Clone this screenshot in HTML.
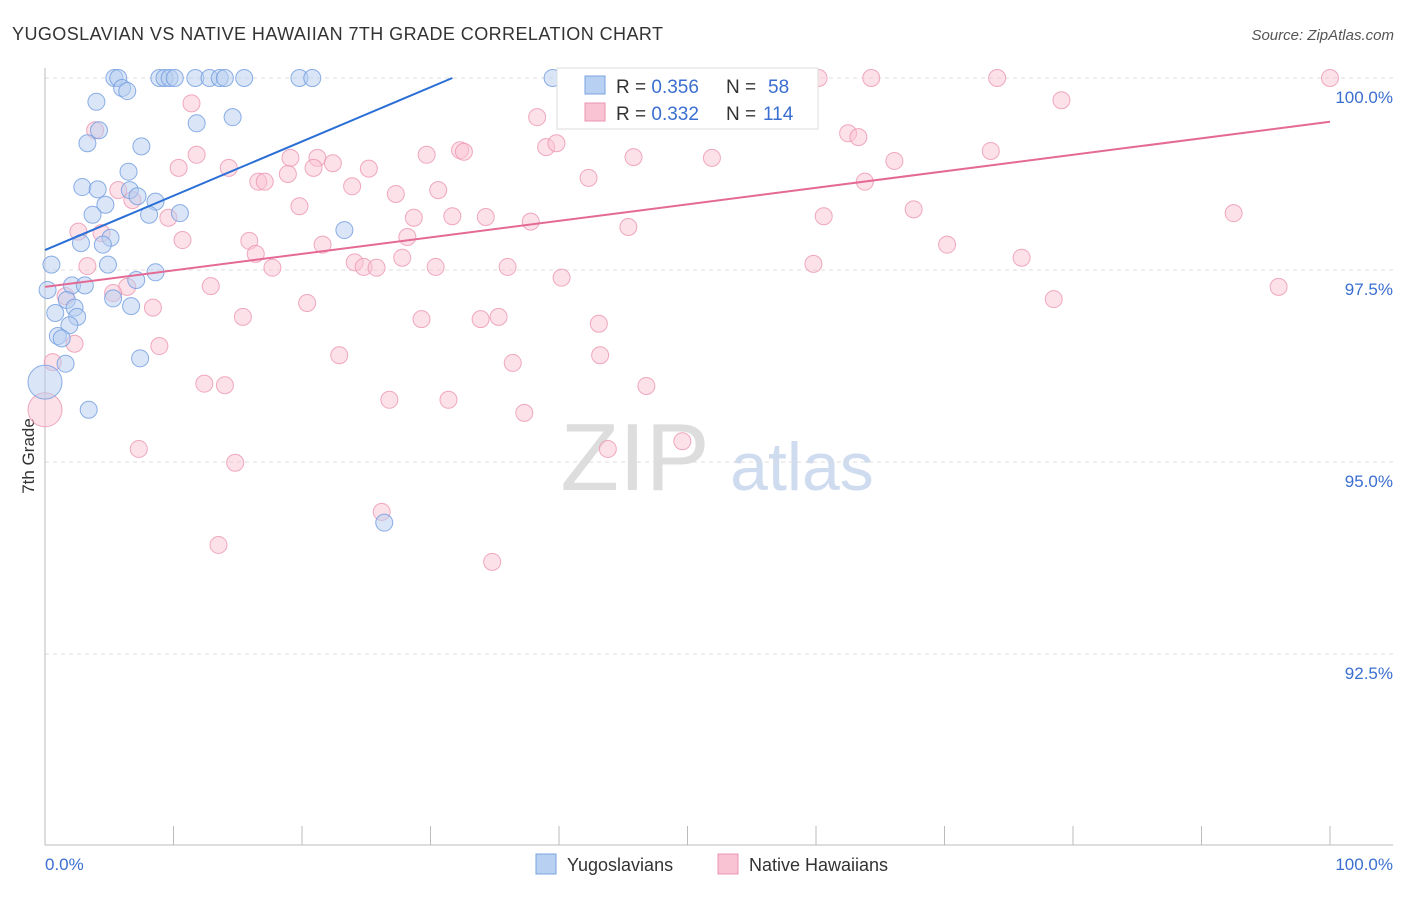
<!DOCTYPE html>
<html><head><meta charset="utf-8">
<style>
body{margin:0;background:#fff;width:1406px;height:892px;overflow:hidden;font-family:"Liberation Sans",sans-serif;}
svg text{font-family:"Liberation Sans",sans-serif;}
</style></head>
<body>
<svg id="chart" width="1406" height="892" xmlns="http://www.w3.org/2000/svg">
<text x="12" y="40" font-size="18" fill="#333" textLength="651" lengthAdjust="spacing">YUGOSLAVIAN VS NATIVE HAWAIIAN 7TH GRADE CORRELATION CHART</text>
<text x="1394" y="40" font-size="15" fill="#555" font-style="italic" text-anchor="end">Source: ZipAtlas.com</text>
<text transform="translate(34,456) rotate(-90)" font-size="17" fill="#333" text-anchor="middle">7th Grade</text>
<g>
<text x="635" y="490" font-size="96" fill="#ddd" font-family="Liberation Serif" text-anchor="middle">ZIP</text>
<text x="802" y="490" font-size="68" fill="#cfdcf0" text-anchor="middle">atlas</text>
</g>
<g id="grid"></g>
<g id="marks"></g>
<g>
<rect x="557" y="68" width="261" height="61" fill="#fff" stroke="#ddd"/>
<rect x="585" y="76" width="20" height="18" fill="#b8d0f2" stroke="#7aa3e0"/>
<rect x="585" y="103" width="20" height="18" fill="#f9c3d3" stroke="#ec95b0"/>
<text x="616" y="93" font-size="19" fill="#333">R = <tspan fill="#3a6fd0">0.356</tspan></text>
<text x="726" y="93" font-size="19" fill="#333">N =</text>
<text x="768" y="93" font-size="19" fill="#3a6fd0">58</text>
<text x="616" y="120" font-size="19" fill="#333">R = <tspan fill="#3a6fd0">0.332</tspan></text>
<text x="726" y="120" font-size="19" fill="#333">N =</text>
<text x="763" y="120" font-size="19" fill="#3a6fd0">114</text>
</g>
<g>
<rect x="536" y="854" width="20" height="20" fill="#b8d0f2" stroke="#7aa3e0"/>
<text x="567" y="871" font-size="18" fill="#333">Yugoslavians</text>
<rect x="718" y="854" width="20" height="20" fill="#f9c3d3" stroke="#ec95b0"/>
<text x="749" y="871" font-size="18" fill="#333">Native Hawaiians</text>
</g>
</svg>
<script>
const yTicks=[100,97.5,95,92.5];
const yTickLabels=["100.0%","97.5%","95.0%","92.5%"];
const xTickLabels=["0.0%","100.0%"];
const blueX=[5.4,5.7,8.9,9.3,9.7,10.1,11.7,12.8,13.6,14.0,15.5,19.8,20.8,39.5,6.0,6.4,4.0,11.8,14.6,4.2,3.3,7.5,6.5,2.9,4.1,6.6,7.2,8.6,4.7,3.7,8.1,10.5,23.3,5.1,2.8,4.5,0.5,4.9,8.6,7.1,2.1,3.1,0.2,5.3,1.7,2.3,6.7,0.8,2.5,1.9,1.0,1.3,7.4,1.6,0,3.4,26.4];
const blueY=[100,100,100,100,100,100,100,100,100,100,100,100,100,100,99.87,99.83,99.69,99.41,99.49,99.32,99.15,99.11,98.78,98.58,98.55,98.54,98.46,98.39,98.35,98.22,98.22,98.24,98.02,97.92,97.85,97.83,97.57,97.57,97.47,97.37,97.30,97.30,97.24,97.13,97.11,97.01,97.03,96.94,96.89,96.78,96.64,96.61,96.35,96.28,96.04,95.68,94.21];
const pinkX=[41.1,41.6,45.3,47.6,49.4,52.5,59.4,60.2,64.3,74.1,100,79.1,11.4,38.3,3.9,62.5,63.3,32.3,32.6,39.0,39.8,73.6,11.8,29.7,45.8,51.9,19.1,21.2,66.1,10.4,14.3,20.9,22.4,25.2,42.3,16.6,17.1,18.9,23.9,5.7,30.6,27.3,6.8,63.8,19.8,67.6,92.5,60.6,34.3,31.7,28.7,37.8,9.6,45.4,2.6,4.4,28.2,15.9,10.7,21.6,70.2,16.4,27.8,76.0,3.3,24.1,24.8,25.8,36.0,30.4,17.7,59.8,40.2,12.9,6.4,96.0,5.3,1.6,78.5,20.4,8.4,15.4,29.3,33.9,35.3,43.1,2.3,8.9,22.9,43.2,36.4,0.6,12.4,14.0,46.8,26.8,31.4,37.3,0,49.6,7.3,43.8,14.8,26.2,13.5,34.8];
const pinkY=[100,100,100,100,100,100,100,100,100,100,100,99.71,99.67,99.49,99.32,99.28,99.23,99.06,99.04,99.10,99.15,99.05,99.00,99.00,98.97,98.96,98.96,98.96,98.92,98.83,98.83,98.83,98.89,98.82,98.70,98.65,98.65,98.75,98.59,98.54,98.54,98.49,98.41,98.65,98.33,98.29,98.24,98.20,98.19,98.20,98.18,98.13,98.18,98.06,98.00,97.98,97.93,97.88,97.89,97.83,97.83,97.71,97.66,97.66,97.55,97.60,97.54,97.53,97.54,97.54,97.53,97.58,97.40,97.29,97.28,97.28,97.20,97.16,97.12,97.07,97.01,96.89,96.86,96.86,96.89,96.80,96.54,96.51,96.39,96.39,96.29,96.30,96.02,96.00,95.99,95.81,95.81,95.64,95.68,95.27,95.17,95.17,94.99,94.35,93.92,93.70];
const blueTrend=[97.76,100.0];
const blueTrendX=[0,31.7];
const pinkTrend=[97.28,99.43];
const pinkTrendX=[0,100];

const NS="http://www.w3.org/2000/svg";
const X0=45,X1=1330,Y100=78,PXPER=192/2.5;
const sx=v=>X0+(X1-X0)*v/100;
const sy=v=>Y100+(100-v)*PXPER;
function mk(tag,attrs,parent){const e=document.createElementNS(NS,tag);for(const k in attrs)e.setAttribute(k,attrs[k]);parent.appendChild(e);return e;}
const grid=document.getElementById('grid'),marks=document.getElementById('marks');
yTicks.forEach((t,i)=>{
  const l=mk('line',{x1:45,x2:1393,y1:sy(t),y2:sy(t),stroke:'#ddd','stroke-dasharray':'4,4'},grid);
  
  
  const tx=mk('text',{x:1393,y:sy(t)+25,'font-size':17,fill:'#3a6fd0','text-anchor':'end'},grid);
  tx.textContent=yTickLabels[i];
  
  
});
const ax=mk('line',{x1:45,x2:1393,y1:845,y2:845,stroke:'#bbb'},grid);


const ay=mk('line',{x1:45,x2:45,y1:68,y2:845,stroke:'#bbb'},grid);


for(let i=0;i<=10;i++){
  const t=mk('line',{x1:sx(i*10),x2:sx(i*10),y1:826,y2:845,stroke:'#bbb'},grid);
  
  
}
[[0,'start',45],[100,'end',1393]].forEach((d,i)=>{
  const t=mk('text',{x:d[2],y:870,'font-size':17,fill:'#3a6fd0','text-anchor':d[1]},grid);
  t.textContent=xTickLabels[i];
  
  
});
function pts(xs,ys,fill,stroke,name){
  xs.forEach((x,i)=>{
    const big=(x===0);
    const c=mk('circle',{cx:sx(x),cy:sy(ys[i]),r:big?17:8.5,fill:fill,'fill-opacity':0.5,stroke:stroke,'stroke-width':1,'stroke-opacity':0.8},marks);
    
    
  });
}
pts(pinkX,pinkY,'#f9c3d3','#ec95b0','hawaiian-point');
pts(blueX,blueY,'#b6cdf0','#6f9be0','yugoslavian-point');
const bl=mk('line',{x1:sx(blueTrendX[0]),y1:sy(blueTrend[0]),x2:sx(blueTrendX[1]),y2:sy(blueTrend[1]),stroke:'#2b6fd6','stroke-width':2},marks);


const pl=mk('line',{x1:sx(pinkTrendX[0]),y1:sy(pinkTrend[0]),x2:sx(pinkTrendX[1]),y2:sy(pinkTrend[1]),stroke:'#e46a95','stroke-width':2},marks);


</script>
</body></html>
